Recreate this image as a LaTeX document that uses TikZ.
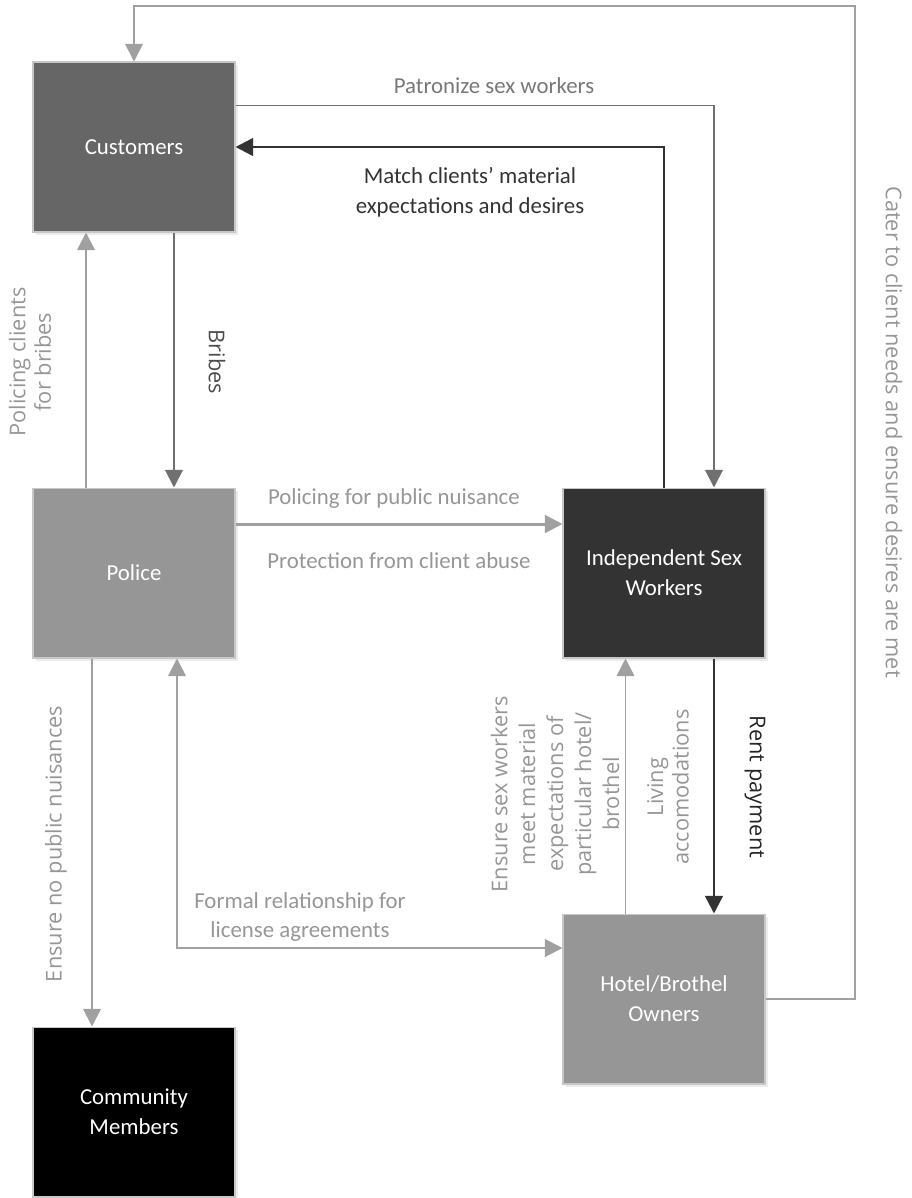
\documentclass[tikz,border=0pt]{standalone}
\usepackage{fontspec}
\setmainfont{Carlito}
\newfontfamily\rotfont{Open Sans}
\usetikzlibrary{arrows.meta,shadows}
\definecolor{custfill}{RGB}{102,102,102}
\definecolor{polfill}{RGB}{150,150,150}
\definecolor{iswfill}{RGB}{51,51,51}
\definecolor{lline}{RGB}{160,160,160}
\definecolor{mline}{RGB}{112,112,112}
\definecolor{dline}{RGB}{51,51,51}
\definecolor{ltext}{RGB}{150,150,150}
\definecolor{mtext}{RGB}{120,120,120}
\tikzset{
  >={Triangle[length=10pt,width=10pt]},
  box/.style={draw=black!22, line width=0.6pt, minimum width=4.04cm, minimum height=3.4cm,
              align=center, text=white, font=\fontsize{13}{17}\selectfont,
              drop shadow={opacity=0.15, shadow xshift=1.5pt, shadow yshift=-1.5pt}},
  garr/.style={->, draw=lline, line width=1.1pt},
  marr/.style={->, draw=mline, line width=1.1pt},
  darr/.style={->, draw=dline, line width=1.4pt},
  lbl/.style={font=\fontsize{13}{17}\selectfont, text=ltext, align=center},
  vlbl/.style={font=\rotfont\fontsize{12.4}{14.5}\selectfont, text=ltext, align=center, rotate=90},
  vlbr/.style={font=\rotfont\fontsize{12.4}{14.5}\selectfont, text=ltext, align=center, rotate=-90},
}
\begin{document}
\begin{tikzpicture}[x=0.02cm, y=-0.02cm]
  \useasboundingbox (0,0) rectangle (912,1198);
  % actors
  \node[box, fill=custfill] (cust) at (134,147) {Customers};
  \node[box, fill=polfill] (police) at (134,573) {Police};
  \node[box, fill=iswfill] (isw) at (664,573) {Independent Sex\\Workers};
  \node[box, fill=polfill] (hotel) at (664,999) {Hotel/Brothel\\Owners};
  \node[box, fill=black] (comm) at (134,1112) {Community\\Members};

  % outer loop back to customers
  \coordinate (corner) at (855,6);
  \draw[garr] (hotel.east) -| (corner) -| (cust.north);
  \node[vlbr] (caterlbl) at (894,432) {Cater to client needs and ensure desires are met};

  % customers <-> sex workers
  \draw[marr] ([yshift=0.83cm]cust.east) -| ([xshift=1cm]isw.north);
  \node[lbl, text=mtext] (patlbl) at (494,86) {Patronize sex workers};
  \draw[darr] (isw.north) |- (cust.east);
  \node[lbl, text=dline] (matchlbl) at (470,192) {Match clients’ material\\expectations and desires};

  % customers <-> police
  \draw[marr] ([xshift=0.8cm]cust.south) -- ([xshift=0.8cm]police.north);
  \node[vlbr, text=black!70] (bribelbl) at (217,362) {Bribes};
  \draw[garr] ([xshift=-0.96cm]police.north) -- ([xshift=-0.96cm]cust.south);
  \node[vlbl] (pollbl) at (30,362) {Policing clients\\for bribes};

  % police -> sex workers
  \draw[garr, line width=1.7pt] ([yshift=0.98cm]police.east) -- ([yshift=0.98cm]isw.west);
  \node[lbl] (nuislbl) at (394,499) {Policing for public nuisance};
  \node[lbl] (protlbl) at (399,561) {Protection from client abuse};

  % police -> community
  \draw[garr] ([xshift=-0.84cm]police.south) -- ([xshift=-0.84cm]comm.north);
  \node[vlbl] (enslbl) at (56,844) {Ensure no public nuisances};

  % police <-> hotel
  \draw[garr, <->] ([xshift=0.86cm]police.south) |- ([yshift=1.02cm]hotel.west);
  \node[lbl] (formlbl) at (300,917) {Formal relationship for\\license agreements};

  % hotel <-> sex workers
  \draw[garr] ([xshift=-0.77cm]hotel.north) -- ([xshift=-0.77cm]isw.south);
  \node[vlbl, font=\rotfont\fontsize{12.4}{15.9}\selectfont] (meetlbl) at (555,794)
    {Ensure sex workers\\meet material\\expectations of\\particular hotel/\\brothel};
  \node[vlbl] (livlbl) at (668,787) {Living\\accomodations};
  \draw[darr] ([xshift=1cm]isw.south) -- ([xshift=1cm]hotel.north);
  \node[vlbr, text=black!85] (rentlbl) at (755,787) {Rent payment};
\end{tikzpicture}
\end{document}
